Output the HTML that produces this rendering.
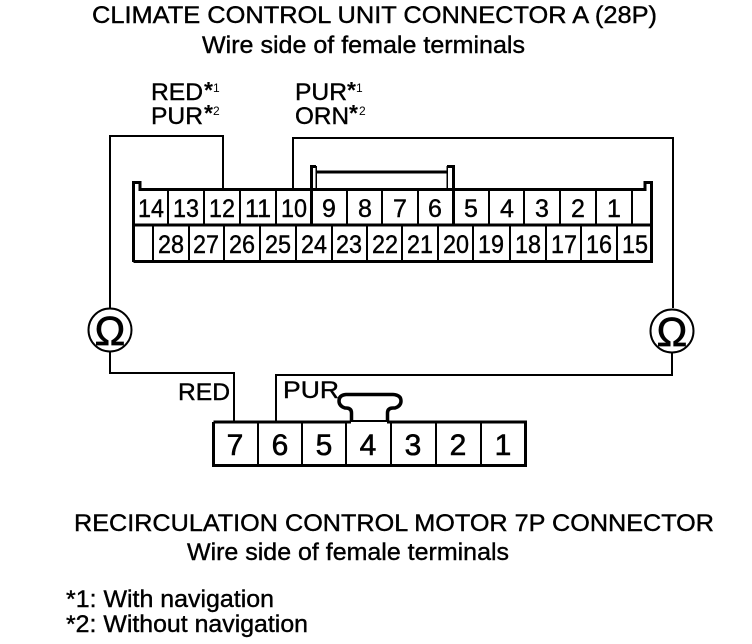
<!DOCTYPE html>
<html><head><meta charset="utf-8">
<style>
html,body{margin:0;padding:0;background:#fff;width:752px;height:644px;overflow:hidden}
svg{display:block}
text{font-family:"Liberation Sans",sans-serif;fill:#000;stroke:#000;stroke-width:.4px}
.n{font-size:25px;text-anchor:middle}
.b{font-size:30px;text-anchor:middle;stroke-width:.6px}
.t{font-size:24.500px}
.st{font-size:23px;font-weight:bold;stroke:none}
.su{font-size:12px;stroke:none}
</style></head>
<body>
<svg width="752" height="644" viewBox="0 0 752 644" xmlns="http://www.w3.org/2000/svg">
<rect width="752" height="644" fill="#fff"/>
<text class="t" x="92" y="23" textLength="565" lengthAdjust="spacingAndGlyphs">CLIMATE CONTROL UNIT CONNECTOR A (28P)</text>
<text class="t" x="202" y="53" textLength="323" lengthAdjust="spacingAndGlyphs">Wire side of female terminals</text>

<text class="t" x="151" y="100" textLength="52" lengthAdjust="spacingAndGlyphs">RED</text>
<text class="st" x="204" y="98">*</text><text class="su" x="213" y="92">1</text>
<text class="t" x="151" y="124" textLength="52" lengthAdjust="spacingAndGlyphs">PUR</text>
<text class="st" x="204" y="121">*</text><text class="su" x="213" y="115">2</text>
<text class="t" x="295" y="100" textLength="52" lengthAdjust="spacingAndGlyphs">PUR</text>
<text class="st" x="347" y="98">*</text><text class="su" x="356" y="92">1</text>
<text class="t" x="295" y="124" textLength="54" lengthAdjust="spacingAndGlyphs">ORN</text>
<text class="st" x="349" y="121">*</text><text class="su" x="359" y="115">2</text>

<g fill="none" stroke="#000" stroke-width="2" shape-rendering="crispEdges">
<path d="M223 189V136H110V308"/>
<path d="M293 189V138H673V308"/>
<path d="M110 351V373H234V421"/>
<path d="M672 352V375H276V421"/>
</g>

<!-- 28P connector -->
<g fill="none" stroke="#000" shape-rendering="crispEdges">
<path stroke-width="3" d="M133.500 262V182.500H140V189.500H645V182.500H651.500V261.500H133.500"/>
<path stroke-width="3" d="M134 225H651"/>
<g stroke-width="2">
<path d="M168 190V225M204 190V225M240 190V225M276 190V225M347 190V225M382 190V225M418 190V225M489 190V225M524 190V225M560 190V225M596 190V225M632 190V225"/>
<path d="M153 225V261M189 225V261M224 225V261M260 225V261M296 225V261M332 225V261M367 225V261M402 225V261M438 225V261M473 225V261M510 225V261M546 225V261M581 225V261M617 225V261"/>
</g>
<path stroke-width="3" d="M311.500 225V166.500H316M453.500 225V166.500H447"/>
<path stroke-width="3" d="M316 172H447"/>
<path stroke-width="1.500" d="M316 166V189M447 166V189"/>
</g>

<g class="nums">
<text class="n" x="151" y="217" textLength="26" lengthAdjust="spacingAndGlyphs">14</text><text class="n" x="186" y="217" textLength="26" lengthAdjust="spacingAndGlyphs">13</text><text class="n" x="222" y="217" textLength="26" lengthAdjust="spacingAndGlyphs">12</text><text class="n" x="258" y="217" textLength="26" lengthAdjust="spacingAndGlyphs">11</text><text class="n" x="294" y="217" textLength="26" lengthAdjust="spacingAndGlyphs">10</text><text class="n" x="329" y="217">9</text><text class="n" x="365" y="217">8</text><text class="n" x="400" y="217">7</text><text class="n" x="435" y="217">6</text><text class="n" x="471" y="217">5</text><text class="n" x="507" y="217">4</text><text class="n" x="542" y="217">3</text><text class="n" x="578" y="217">2</text><text class="n" x="614" y="217">1</text>
<text class="n" x="171" y="253" textLength="26" lengthAdjust="spacingAndGlyphs">28</text><text class="n" x="206" y="253" textLength="26" lengthAdjust="spacingAndGlyphs">27</text><text class="n" x="242" y="253" textLength="26" lengthAdjust="spacingAndGlyphs">26</text><text class="n" x="278" y="253" textLength="26" lengthAdjust="spacingAndGlyphs">25</text><text class="n" x="314" y="253" textLength="26" lengthAdjust="spacingAndGlyphs">24</text><text class="n" x="349" y="253" textLength="26" lengthAdjust="spacingAndGlyphs">23</text><text class="n" x="385" y="253" textLength="26" lengthAdjust="spacingAndGlyphs">22</text><text class="n" x="420" y="253" textLength="26" lengthAdjust="spacingAndGlyphs">21</text><text class="n" x="456" y="253" textLength="26" lengthAdjust="spacingAndGlyphs">20</text><text class="n" x="491" y="253" textLength="26" lengthAdjust="spacingAndGlyphs">19</text><text class="n" x="528" y="253" textLength="26" lengthAdjust="spacingAndGlyphs">18</text><text class="n" x="564" y="253" textLength="26" lengthAdjust="spacingAndGlyphs">17</text><text class="n" x="599" y="253" textLength="26" lengthAdjust="spacingAndGlyphs">16</text><text class="n" x="635" y="253" textLength="26" lengthAdjust="spacingAndGlyphs">15</text>
</g>

<!-- Omega meters -->
<circle cx="110" cy="330" r="21.500" fill="#fff" stroke="#000" stroke-width="2"/>
<circle cx="672" cy="331" r="21.500" fill="#fff" stroke="#000" stroke-width="2"/>
<text x="110" y="345" font-size="41" text-anchor="middle" style="stroke-width:.7px">Ω</text>
<text x="672" y="346" font-size="41" text-anchor="middle" style="stroke-width:.7px">Ω</text>

<text class="t" x="178" y="400" textLength="52" lengthAdjust="spacingAndGlyphs">RED</text>
<text class="t" x="283" y="398" textLength="56" lengthAdjust="spacingAndGlyphs">PUR</text>

<!-- 7P connector -->
<g fill="none" stroke="#000">
<path stroke-width="3" shape-rendering="crispEdges" d="M213.500 422H351M387 422H525.500V465.500H213.500V422"/>
<path stroke-width="2" shape-rendering="crispEdges" d="M258 422V465M302 422V465M346 422V465M391 422V465M436 422V465M481 422V465M351 421H387"/>
<path stroke-width="3.500" d="M351.500 421V413Q351.500 408 346 408H345Q339 406 339 401Q339 395 346 394.500H393Q401 395 401 401Q401 406 395 408H393Q387.500 408 387.500 413V421"/>
</g>
<text class="b" x="235" y="455">7</text><text class="b" x="280" y="455">6</text><text class="b" x="324" y="455">5</text><text class="b" x="368" y="455">4</text><text class="b" x="413" y="455">3</text><text class="b" x="458" y="455">2</text><text class="b" x="503" y="455">1</text>

<text class="t" x="74" y="531" textLength="640" lengthAdjust="spacingAndGlyphs">RECIRCULATION CONTROL MOTOR 7P CONNECTOR</text>
<text class="t" x="187" y="560" textLength="322" lengthAdjust="spacingAndGlyphs">Wire side of female terminals</text>
<text class="t" x="66" y="607" textLength="208" lengthAdjust="spacingAndGlyphs">*1: With navigation</text>
<text class="t" x="66" y="632" textLength="242" lengthAdjust="spacingAndGlyphs">*2: Without navigation</text>
</svg>
</body></html>
